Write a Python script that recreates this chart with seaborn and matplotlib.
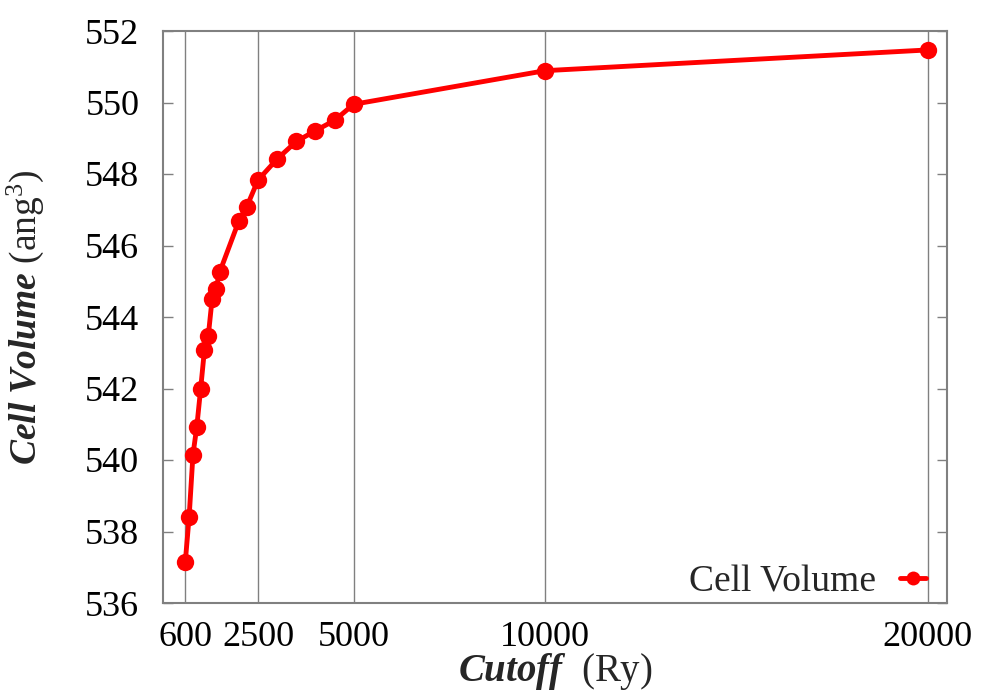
import matplotlib
matplotlib.use("Agg")
import matplotlib.pyplot as plt
import seaborn as sns
import pandas as pd

cutoff = [600, 700, 800, 900, 1000, 1100, 1200, 1300, 1400, 1500,
          2000, 2200, 2500, 3000, 3500, 4000, 4500, 5000, 10000, 20000]
volume = [537.16, 538.41, 540.15, 540.93, 541.98, 543.08, 543.47, 544.50, 544.79, 545.26,
          546.69, 547.07, 547.83, 548.42, 548.91, 549.21, 549.50, 549.95, 550.89, 551.47]
xticks = [600, 2500, 5000, 10000, 20000]
yticks = [536, 538, 540, 542, 544, 546, 548, 550, 552]
series_name = "Cell Volume"

df = pd.DataFrame({"Cutoff": cutoff, "Volume": volume, "series": series_name})

sns.set_style("white")
plt.rcParams["font.family"] = ["Liberation Serif", "DejaVu Serif"]
plt.rcParams["mathtext.fontset"] = "custom"
plt.rcParams["mathtext.rm"] = "Liberation Serif"
plt.rcParams["mathtext.it"] = "Liberation Serif:italic"
plt.rcParams["mathtext.bf"] = "Liberation Serif:bold"
plt.rcParams["mathtext.bfit"] = "Liberation Serif:italic:bold"

fig = plt.figure(figsize=(9.81, 6.99), dpi=100)
ax = fig.add_axes([163/981, 1 - 603/699, (947-163)/981, (603-31)/699])

sns.lineplot(data=df, x="Cutoff", y="Volume", hue="series", palette=["#ff0000"],
             marker="o", markersize=12.5, markeredgewidth=0, linewidth=3.5, ax=ax)

ax.set_xlim(17, 20505)
ax.set_ylim(536, 552)
ax.set_xticks(xticks)
ax.set_xticklabels([str(v) for v in xticks])
ax.set_yticks(yticks)
ax.set_yticklabels([str(v) for v in yticks])
ax.tick_params(axis="both", labelsize=26, colors="#000000")
ax.tick_params(axis="y", direction="in", length=7, width=1, color="#808080",
               left=True, right=True, pad=17)
ax.tick_params(axis="x", direction="in", length=0, pad=13)

ax.grid(axis="x", color="#808080", linewidth=1)
ax.grid(axis="y", visible=False)
for s in ax.spines.values():
    s.set_color("#808080")
    s.set_linewidth(1.5)

ax.set_xlabel(r"$\mathbfit{Cutoff}$  (Ry)", fontsize=28, labelpad=-2)
ax.set_ylabel(r"$\mathbfit{Cell\ Volume}$ (ang$^3$)", fontsize=27, labelpad=28)

leg = ax.legend(loc="lower right", frameon=False, fontsize=27, markerfirst=False,
                handlelength=0.7, handletextpad=0.65, borderaxespad=0, borderpad=0.15,
                bbox_to_anchor=(1 - 15/784, -2/572))
for h in leg.legend_handles:
    h.set_markersize(10)

fig.savefig("out.png", dpi=100)
